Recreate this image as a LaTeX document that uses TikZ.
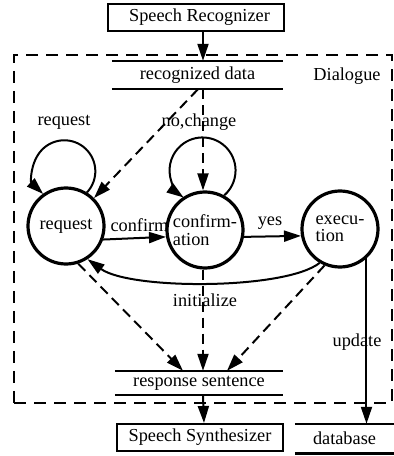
\documentclass[tikz,border=0pt]{standalone}
\usepackage{fontspec}
\setmainfont{Liberation Serif}
\usetikzlibrary{arrows.meta}

\tikzset{
  lbl/.style={font=\fontsize{18.3}{17.5}\selectfont, inner sep=0pt},
  state/.style={lbl, circle, draw, line width=3.2pt, minimum size=76pt, align=left},
  box/.style={lbl, draw, line width=2pt},
  store/.style={lbl},
  storeline/.style={line width=2pt},
  arr/.style={line width=2pt, -{Triangle[length=17pt,width=11pt]}},
  darr/.style={arr, dash pattern=on 10pt off 6pt},
  frame/.style={draw, line width=2pt, dash pattern=on 12pt off 8pt, inner sep=0pt}
}

\begin{document}
\begin{tikzpicture}[x=1pt,y=1pt]
\useasboundingbox (0,0) rectangle (394,456);

% dialogue frame
\node[frame, minimum width=378pt, minimum height=348pt] (dlg) at (203,227) {};
\node[lbl] (dlglbl) at (347,380) {Dialogue};

% external components
\node[box, minimum width=176pt, minimum height=27pt] (rec) at (196,438.5) {\hspace{7pt}Speech Recognizer};
\node[box, minimum width=166pt, minimum height=27pt] (syn) at (200,18.5) {Speech Synthesizer};

% data stores
\node[store, minimum width=171pt, minimum height=28pt] (rd) at (197.5,381) {recognized data};
\draw[storeline] (rd.north west) -- (rd.north east);
\draw[storeline] (rd.south west) -- (rd.south east);

\node[store, minimum width=168pt, minimum height=24pt] (resp) at (199,73) {response sentence};
\draw[storeline] (resp.north west) -- (resp.north east);
\draw[storeline] (resp.south west) -- (resp.south east);

\node[store, minimum width=99pt, minimum height=29pt] (db) at (344.5,17.5) {database};
\draw[storeline] (db.north west) -- (db.north east);
\draw[line width=3pt] (db.south west) -- (db.south east);

% states
\node[state] (req) at (66,230) {request};
\node[state] (conf) at (205,226) {confirm-\\ation};
\node[state] (exec) at (340,227) {execu-\\tion};

% input and output flow
\draw[arr] ([xshift=7pt]rec.south) -- ([xshift=5.5pt]rd.north);
\draw[arr] ([xshift=4pt]resp.south) -- ([xshift=4pt]syn.north);

% self loops
\draw[arr] (req.58) arc[start angle=-43, end angle=227, radius=31pt];
\node[lbl] (lreq) at (64,334) {request};
\draw[arr] (conf.61) arc[start angle=-49, end angle=235, radius=33pt];
\node[lbl] (lchg) at (199,334) {no,change};

% transitions
\draw[arr] (req.-20) -- (conf.190);
\node[lbl] (lconf) at (139.5,231) {confirm};
\draw[arr] (conf.-10) -- (exec.190);
\node[lbl] (lyes) at (270,233) {yes};
\draw[arr] (exec.-121) .. controls (285,166) and (130,166) .. (req.-57);
\node[lbl] (linit) at (205,156) {initialize};

% data flow
\draw[darr] ([xshift=0.5pt]rd.south) -- (req.45);
\draw[darr] ([xshift=5.5pt]rd.south) -- ([xshift=-2pt]conf.north);
\draw[darr] (req.-72) -- ([xshift=-16pt]resp.north);
\draw[darr] ([xshift=-2pt]conf.south) -- ([xshift=4pt]resp.north);
\draw[darr] (exec.-113) -- ([xshift=28pt]resp.north);

% database update
\draw[arr] (exec.-48) -- (exec.-48 |- db.north);
\node[lbl] (lupd) at (357,114) {update};
\end{tikzpicture}
\end{document}
